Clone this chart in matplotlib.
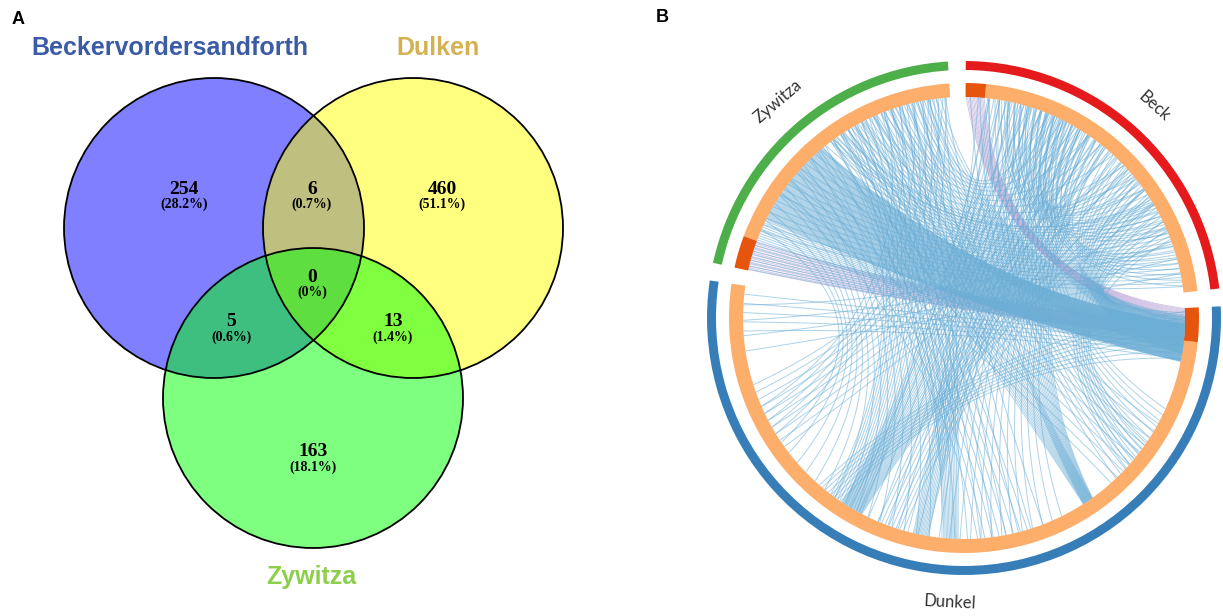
import numpy as np
import matplotlib
matplotlib.use("Agg")
import matplotlib.pyplot as plt
from matplotlib.patches import Circle, Wedge
from matplotlib.collections import LineCollection

# ---- panel A: venn data ----
venn_names = ["Beckervordersandforth", "Dulken", "Zywitza"]
venn_name_colors = ["#3B5BA5", "#D4B152", "#8DCF4A"]
venn_fill = ["#0000FF", "#FFFF00", "#00FF00"]
# regions: only B, only D, only Z, B&D, B&Z, D&Z, all
region_counts = [254, 460, 163, 6, 5, 13, 0]

# ---- panel B: chord data ----
sector_names = ["Beck", "Dunkel", "Zywitza"]
sector_sizes = [83, 191, 74]
sector_colors = ["#E41A1C", "#377EB8", "#4DAF4A"]
shared_sizes = [5, 8.5, 8]          # dark orange block at start of each sector
# links: (sector a, from, to, sector b, from, to, lines, colour kind)
links = [
    # into the Dunkel start block (right side)
    ("Zywitza", 14, 38, "Dunkel", 4, 14, 90, "b"),
    ("Zywitza", 40, 72, "Dunkel", 2, 12, 30, "b"),
    ("Zywitza", 8, 14, "Dunkel", 9, 14, 10, "b"),
    ("Beck", 40, 70, "Dunkel", 1, 12, 22, "b"),
    ("Beck", 10, 35, "Dunkel", 3, 10, 14, "b"),
    ("Dunkel", 178, 190, "Dunkel", 8, 14, 5, "b"),
    ("Zywitza", 0, 8, "Dunkel", 2, 8, 10, "b"),
    # shared genes
    ("Beck", 0, 5, "Dunkel", 0, 4, 14, "p"),
    ("Zywitza", 0, 8, "Dunkel", 4, 8.5, 16, "p"),
    # Dunkel bottom-right
    ("Dunkel", 57, 60, "Beck", 0, 40, 16, "b"),
    ("Dunkel", 57, 60, "Zywitza", 40, 74, 14, "b"),
    ("Dunkel", 26, 50, "Beck", 5, 30, 14, "b"),
    ("Dunkel", 30, 52, "Zywitza", 20, 60, 10, "b"),
    ("Dunkel", 36, 46, "Beck", 50, 70, 8, "b"),
    # Dunkel bottom
    ("Dunkel", 94, 98, "Zywitza", 40, 74, 12, "b"),
    ("Dunkel", 102, 106, "Beck", 2, 35, 12, "b"),
    ("Dunkel", 75, 90, "Zywitza", 20, 50, 8, "b"),
    # Dunkel bottom-left
    ("Dunkel", 120, 126, "Beck", 5, 60, 24, "b"),
    ("Dunkel", 120, 130, "Zywitza", 45, 74, 14, "b"),
    ("Dunkel", 126, 134, "Dunkel", 0, 14, 8, "b"),
    ("Dunkel", 108, 116, "Beck", 30, 60, 8, "b"),
    # Dunkel left
    ("Dunkel", 146, 166, "Beck", 15, 50, 10, "b"),
    ("Dunkel", 150, 160, "Zywitza", 55, 74, 5, "b"),
    # Beck right side
    ("Beck", 58, 82, "Zywitza", 10, 45, 20, "b"),
    ("Beck", 64, 80, "Dunkel", 172, 188, 4, "b"),
    ("Beck", 8, 28, "Beck", 45, 68, 14, "b"),
    ("Beck", 20, 40, "Beck", 70, 82, 8, "b"),
    # top going down
    ("Beck", 5, 40, "Dunkel", 65, 125, 22, "b"),
    ("Zywitza", 10, 70, "Dunkel", 70, 150, 24, "b"),
    ("Zywitza", 40, 70, "Beck", 20, 60, 10, "b"),
]

W, H = 1223, 616
fig = plt.figure(figsize=(W / 100, H / 100), dpi=100)
ax = fig.add_axes([0, 0, 1, 1])
ax.set_xlim(0, W)
ax.set_ylim(0, H)
ax.set_aspect("equal")
ax.axis("off")


def Y(y):
    return H - y


# ---------------- panel A ----------------
centers = [(214, Y(228)), (413, Y(228)), (313, Y(398))]
rad = 150
for (x, y), c in zip(centers, venn_fill):
    ax.add_patch(Circle((x, y), rad, facecolor=c, alpha=0.5, edgecolor="none", zorder=1))
for (x, y) in centers:
    ax.add_patch(Circle((x, y), rad, facecolor="none", edgecolor="black", lw=1.3, zorder=2))

total = sum(region_counts)
region_xy = [(184, 189), (442, 189), (313, 452), (312, 189), (231, 322), (393, 322), (312, 277)]
for n, (x, y) in zip(region_counts, region_xy):
    p = round(100 * n / total, 1)
    ax.text(x, Y(y), str(n), ha="center", va="center", fontsize=14, fontweight="bold",
            family="Liberation Serif", zorder=3)
    ax.text(x, Y(y + 15), f"({p:g}%)", ha="center", va="center", fontsize=10,
            fontweight="bold", family="Liberation Serif", zorder=3)

name_xy = [(170, 48), (438, 48), (311, 577)]
for name, col, (x, y) in zip(venn_names, venn_name_colors, name_xy):
    ax.text(x, Y(y), name, ha="center", va="center", fontsize=18, fontweight="bold",
            color=col, family="Liberation Sans")

ax.text(18, Y(19), "A", ha="center", va="center", fontsize=13, fontweight="bold",
        family="Liberation Sans")
ax.text(662, Y(18), "B", ha="center", va="center", fontsize=13, fontweight="bold",
        family="Liberation Sans")

# ---------------- panel B ----------------
cx, cy = 964, Y(318)
gap = 4
start = 89.6
r_link, r_in1, r_in2, r_out1, r_out2 = 221, 221, 235, 248, 257

sector_start = {}
a = start
for name, size in zip(sector_names, sector_sizes):
    sector_start[name] = a
    a = a - size - gap


def ang(sector, pos):
    return np.radians(sector_start[sector] - pos)


for name, size, col, sh in zip(sector_names, sector_sizes, sector_colors, shared_sizes):
    s = sector_start[name]
    e = s - size
    ax.add_patch(Wedge((cx, cy), r_out2, e, s, width=r_out2 - r_out1, facecolor=col,
                       edgecolor="none"))
    ax.add_patch(Wedge((cx, cy), r_in2, e, s - sh, width=r_in2 - r_in1, facecolor="#FDAE6B",
                       edgecolor="none"))
    ax.add_patch(Wedge((cx, cy), r_in2, s - sh, s, width=r_in2 - r_in1, facecolor="#E6550D",
                       edgecolor="none"))
    mid = (s - size / 2 + 180) % 360 - 180
    rot = mid - 90 if mid > 0 else mid + 90
    mr = np.radians(mid)
    ax.text(cx + 285 * np.cos(mr), cy + 285 * np.sin(mr), name, ha="center", va="center",
            rotation=rot, fontsize=12, color="#333333", family="Lato")

t = np.linspace(0, 1, 40)[:, None]
segs = {"b": [], "p": []}
for sa, a0, a1, sb, b0, b1, n, kind in links:
    for i in range(n):
        f = (i + 0.5) / n
        t1 = ang(sa, a0 + (a1 - a0) * f)
        t2 = ang(sb, b1 - (b1 - b0) * f)
        p1 = np.array([r_link * np.cos(t1), r_link * np.sin(t1)])
        p2 = np.array([r_link * np.cos(t2), r_link * np.sin(t2)])
        ctrl = (p1 + p2) / 2 * 0.3
        pts = (1 - t) ** 2 * p1 + 2 * (1 - t) * t * ctrl + t ** 2 * p2
        segs[kind].append(pts + np.array([cx, cy]))

ax.add_collection(LineCollection(segs["p"], colors="#8E6BBF", linewidths=0.6, alpha=0.4, zorder=4))
ax.add_collection(LineCollection(segs["b"], colors="#6BAED6", linewidths=0.7, alpha=0.55, zorder=5))

fig.savefig("out.png", dpi=100)
